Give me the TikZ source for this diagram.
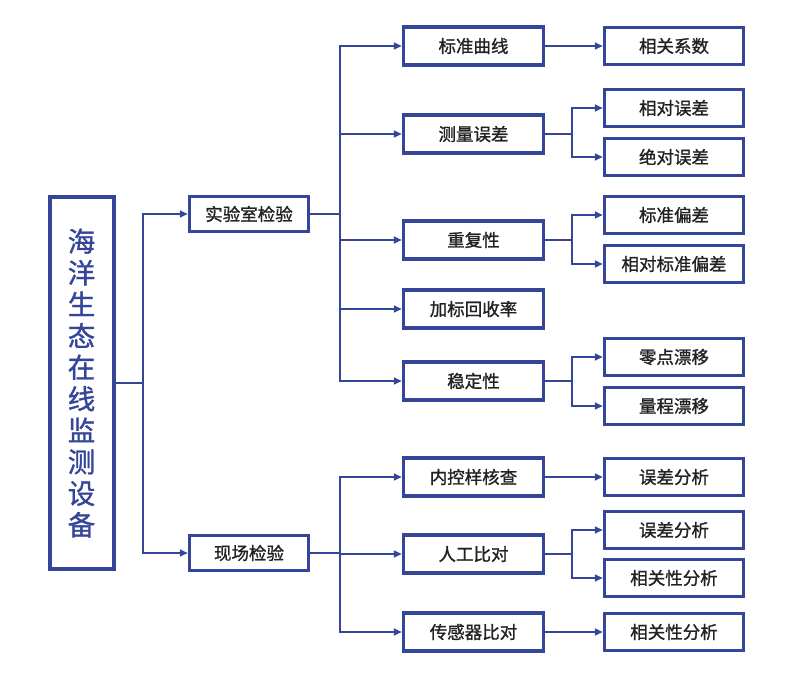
\documentclass[tikz,border=0pt]{standalone}
\usepackage{fontspec}
\setmainfont{Noto Sans CJK SC}
\newfontfamily\medfont{Noto Sans CJK SC}[FakeBold=1.2]
\usetikzlibrary{arrows.meta}
\definecolor{navy}{HTML}{35469A}
\definecolor{txt}{HTML}{222222}
\tikzset{
  box/.style={draw=navy,line width=3.5pt,fill=white,inner sep=0pt,text=txt,font=\medfont\fontsize{17.5}{20}\selectfont},
  lvone/.style={box,minimum width=119pt,minimum height=35pt},
  mid/.style={box,minimum width=140pt,minimum height=38pt},
  leaf/.style={box,minimum width=139pt,minimum height=37pt},
  conn/.style={draw=navy,line width=1.6pt},
  arr/.style={conn,-{Triangle[length=8pt,width=7pt]}}
}
\begin{document}
\begin{tikzpicture}[x=1pt,y=-1pt]
\useasboundingbox (0,0) rectangle (805,676);
% root
\node[box,minimum width=64pt,minimum height=372pt,line width=4pt,text=navy,font=\medfont\fontsize{27.5}{31.5}\selectfont,align=center] (root) at (81.5,383)
 {海\\洋\\生\\态\\在\\线\\监\\测\\设\\备};
% level 1
\node[lvone] (lab) at (249,214) {实验室检验};
\node[lvone] (field) at (249,553) {现场检验};
% mid
\node[mid] (m1) at (473.5,46) {标准曲线};
\node[mid] (m2) at (473.5,134) {测量误差};
\node[mid] (m3) at (473.5,240) {重复性};
\node[mid] (m4) at (473.5,309) {加标回收率};
\node[mid] (m5) at (473.5,381) {稳定性};
\node[mid] (m6) at (473.5,477) {内控样核查};
\node[mid] (m7) at (473.5,554) {人工比对};
\node[mid] (m8) at (473.5,632) {传感器比对};
% leaves
\node[leaf] (r1) at (674,46) {相关系数};
\node[leaf] (r2) at (674,108) {相对误差};
\node[leaf] (r3) at (674,157) {绝对误差};
\node[leaf] (r4) at (674,215) {标准偏差};
\node[leaf] (r5) at (674,264) {相对标准偏差};
\node[leaf] (r6) at (674,357) {零点漂移};
\node[leaf] (r7) at (674,406) {量程漂移};
\node[leaf] (r8) at (674,477) {误差分析};
\node[leaf] (r9) at (674,530) {误差分析};
\node[leaf] (r10) at (674,578) {相关性分析};
\node[leaf] (r11) at (674,632) {相关性分析};
% buses
\coordinate (rootbus) at (143,383);
\coordinate (labbus) at (340,214);
\coordinate (fieldbus) at (340,553);
\path[conn] (root.east) -- (rootbus);
\path[arr] (rootbus) |- (lab.west);
\path[arr] (rootbus) |- (field.west);
\path[conn] (lab.east) -- (labbus);
\foreach \m in {m1,m2,m3,m4,m5} {\path[arr] (labbus) |- (\m.west);}
\path[conn] (field.east) -- (fieldbus);
\foreach \m in {m6,m7,m8} {\path[arr] (fieldbus) |- (\m.west);}
% second level
\path[arr] (m1.east) -- (r1.west);
\path[arr] (m6.east) -- (r8.west);
\path[arr] (m8.east) -- (r11.west);
\coordinate (b2) at (572,134);
\coordinate (b3) at (572,240);
\coordinate (b5) at (572,381);
\coordinate (b7) at (572,554);
\path[conn] (m2.east) -- (b2);
\path[arr] (b2) |- (r2.west);
\path[arr] (b2) |- (r3.west);
\path[conn] (m3.east) -- (b3);
\path[arr] (b3) |- (r4.west);
\path[arr] (b3) |- (r5.west);
\path[conn] (m5.east) -- (b5);
\path[arr] (b5) |- (r6.west);
\path[arr] (b5) |- (r7.west);
\path[conn] (m7.east) -- (b7);
\path[arr] (b7) |- (r9.west);
\path[arr] (b7) |- (r10.west);
\end{tikzpicture}
\end{document}
